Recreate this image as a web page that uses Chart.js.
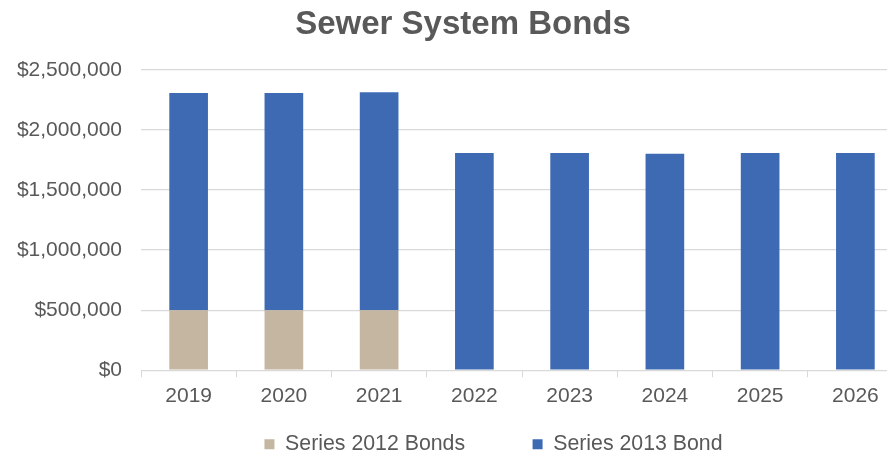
<!DOCTYPE html>
<html>
<head>
<meta charset="utf-8">
<script src="https://cdn.jsdelivr.net/npm/chart.js@4/dist/chart.umd.min.js"></script>
<style>
  html, body { margin: 0; padding: 0; background: #ffffff; overflow: hidden; }
  #wrap { width: 887px; height: 451px; overflow: hidden; position: relative; }
  canvas { display: block; }
</style>
</head>
<body>
<div id="wrap"><canvas id="c" width="926" height="507"></canvas></div>
<script>
const categories = ['2019', '2020', '2021', '2022', '2023', '2024', '2025', '2026'];
const series2012 = [500000, 500000, 500000, null, null, null, null, null];
const series2013 = [1809000, 1809000, 1815000, 1808000, 1808000, 1802000, 1808000, 1808000];
const yTicks = [0, 500000, 1000000, 1500000, 2000000, 2500000];

const TEXT = '#595959';
const GRID = '#d9d9d9';
const FONT = "'Liberation Sans', Arial, sans-serif";

const shiftPlugin = {
  id: 'shiftPlugin',
  afterLayout(chart) {
    const t = chart.titleBlock;
    if (t) { t.left = 0; t.right = chart.width; }
    const lg = chart.legend;
    if (lg) {
      const dy = 366 - lg.top;
      lg.top += dy; lg.bottom += dy;
      lg.left += 42; lg.right += 42;
    }
  }
};

new Chart(document.getElementById('c'), {
  type: 'bar',
  data: {
    labels: categories,
    datasets: [
      { label: 'Series 2012 Bonds', data: series2012, backgroundColor: '#C5B6A1',
        categoryPercentage: 1.0, barPercentage: 0.406 },
      { label: 'Series 2013 Bond', data: series2013, backgroundColor: '#3E6AB4',
        categoryPercentage: 1.0, barPercentage: 0.406 }
    ]
  },
  options: {
    responsive: false,
    animation: false,
    devicePixelRatio: 1,
    layout: { padding: { left: 0, right: 23, top: 0, bottom: 0 } },
    plugins: {
      title: {
        display: true,
        text: 'Sewer System Bonds',
        color: TEXT,
        font: { family: FONT, size: 33, weight: 'bold' },
        padding: { top: 5, bottom: 25.4 }
      },
      legend: {
        position: 'bottom',
        labels: {
          color: TEXT,
          font: { family: FONT, size: 21.3 },
          boxWidth: 10,
          boxHeight: 10,
          padding: 67.5
        }
      },
      tooltip: { enabled: false }
    },
    scales: {
      x: {
        stacked: true,
        offset: true,
        grid: { display: true, drawOnChartArea: false, drawTicks: true, tickLength: 7, color: GRID, offset: true },
        border: { display: true, color: GRID, width: 1 },
        ticks: { color: TEXT, font: { family: FONT, size: 21 }, padding: 6, maxRotation: 0 },
        afterFit(scale) { scale.height = 38; }
      },
      y: {
        stacked: true,
        min: 0,
        max: 2500000,
        afterBuildTicks(scale) { scale.ticks = yTicks.map(v => ({ value: v })); },
        grid: { color: GRID, lineWidth: 1.3, drawTicks: false },
        border: { display: false },
        ticks: {
          color: TEXT,
          font: { family: FONT, size: 21 },
          padding: 19,
          callback: (v) => '$' + Number(v).toLocaleString('en-US')
        },
        afterFit(scale) { scale.width = 141; }
      }
    }
  },
  plugins: [shiftPlugin]
});
</script>
</body>
</html>
